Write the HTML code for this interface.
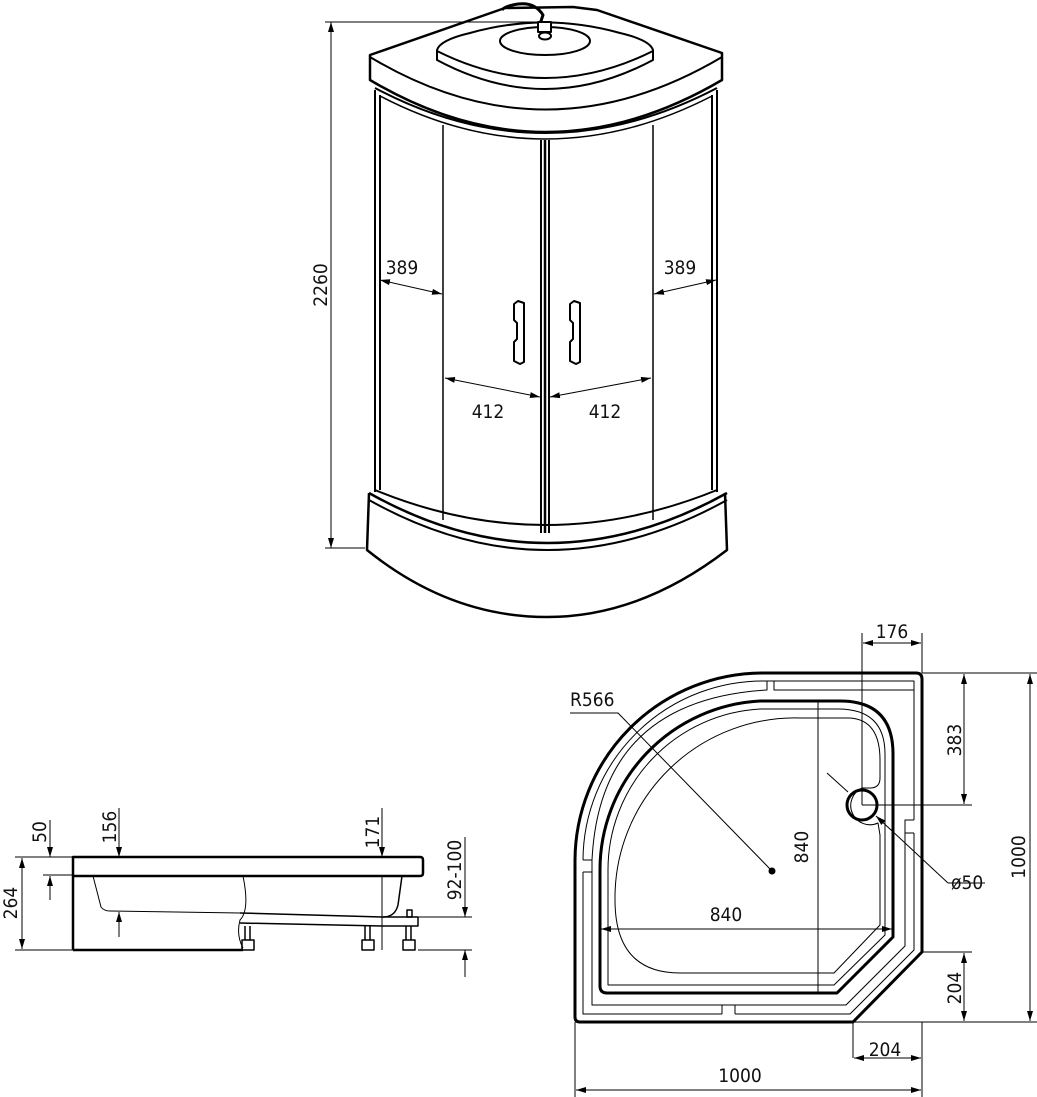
<!DOCTYPE html>
<html><head><meta charset="utf-8"><style>
html,body{margin:0;padding:0;background:#fff;}
svg{display:block;}
text{font-family:"DejaVu Sans Condensed","Liberation Sans Narrow","Liberation Sans",sans-serif;font-size:19px;fill:#111;}
</style></head><body>
<svg width="1037" height="1097" viewBox="0 0 1037 1097" xmlns="http://www.w3.org/2000/svg">
<defs>
<marker id="a" viewBox="0 0 10 6" refX="10" refY="3" markerWidth="10" markerHeight="6" orient="auto-start-reverse" markerUnits="userSpaceOnUse"><path d="M0,0 L10,3 L0,6z" fill="#000"/></marker>
</defs>
<g fill="none" stroke="#000" stroke-linejoin="round">
<!-- CABIN -->
<path d="M370,55 L505,8 L573,7 L597,10 L722,53 L722,80 Q545,184 370,80 Z" stroke-width="2.5" fill="#fff"/>
<path d="M370,57 Q545,162 722,57" stroke-width="2"/>
<path d="M437,50 L437,60 Q545,118 653,60 L653,50 Q650,40 620,33 Q545,12 470,33 Q440,40 437,50 Z" stroke-width="2" fill="#fff"/>
<path d="M437,51 Q545,105 653,51" stroke-width="2"/>
<ellipse cx="545" cy="41" rx="45" ry="14" stroke-width="2"/>
<path d="M540,24 L543,15 Q535,2 518,4 Q505,6 502,10" stroke-width="3"/>
<rect x="538" y="22" width="13" height="10" stroke-width="2" fill="#fff"/>
<ellipse cx="545" cy="36" rx="6" ry="3.5" stroke-width="2"/>
<!-- frame -->
<path d="M375,90 L375,492 M380,95 L380,490 M717,90 L717,492 M712,95 L712,490" stroke-width="2"/>
<path d="M375,88 Q545,178 717,88" stroke-width="2"/>
<path d="M380,96 Q545,182 712,96" stroke-width="1.5"/>
<path d="M443,125 L443,520 M653,125 L653,520" stroke-width="1.5"/>
<path d="M541,140 L541,533 M549,140 L549,533" stroke-width="2"/>
<path d="M545,140 L545,533" stroke-width="2.5"/>
<path d="M375,490 Q545,560 717,490" stroke-width="2"/>
<!-- handles -->
<path d="M514,304 L518,301 L524,303 L524,362 L520,364 L514,361 L514,342 L517,339 L517,323 L514,320 Z" stroke-width="2"/>
<path d="M570,304 L574,301 L580,303 L580,362 L576,364 L570,361 L570,342 L573,339 L573,323 L570,320 Z" stroke-width="2"/>
<!-- tray -->
<path d="M369,493 Q547,593 727,493" stroke-width="2.5"/>
<path d="M369,500 Q547,600 727,500" stroke-width="2"/>
<path d="M369,493 L367,550 Q450,617 547,617 Q640,617 727,550 L725,493" stroke-width="2.5"/>
<path d="M325,22 L545,22 M325,548 L365,548" stroke-width="1"/>
<path d="M331,22 L331,548" stroke-width="1" marker-start="url(#a)" marker-end="url(#a)"/>
<path d="M380,280 L442,294" stroke-width="1" marker-start="url(#a)" marker-end="url(#a)"/>
<path d="M654,294 L716,280" stroke-width="1" marker-start="url(#a)" marker-end="url(#a)"/>
<path d="M445,378 L540,397" stroke-width="1" marker-start="url(#a)" marker-end="url(#a)"/>
<path d="M550,397 L651,378" stroke-width="1" marker-start="url(#a)" marker-end="url(#a)"/>

<!-- SIDE VIEW -->
<path d="M73,950 L73,857 L420,857 Q423,857 423,860 L423,873 Q423,876 420,876 L73,876" stroke-width="2.5"/>
<path d="M73,950 L243,950" stroke-width="2.5"/>
<path d="M93,876 L101,907 Q104,911 110,911 L240,913" stroke-width="1"/>
<path d="M243,876 Q250,910 240,920 Q236,935 243,948" stroke-width="1"/>
<path d="M240,913 L383,917 Q395,917 398,905 L402,876" stroke-width="1.5"/>
<path d="M240,923 L383,926 M383,926 L418,926 L418,917 L383,917" stroke-width="1.5"/>
<rect x="407" y="910" width="5" height="7" stroke-width="1.5"/>
<g stroke-width="1.5">
<path d="M245,926 L245,940 M250,926 L250,940"/><rect x="242" y="940" width="12" height="10"/>
<path d="M365,926 L365,940 M370,926 L370,940"/><rect x="362" y="940" width="12" height="10"/>
<path d="M406,926 L406,940 M411,926 L411,940"/><rect x="403" y="940" width="12" height="10"/>
</g>
<path d="M15,857 L73,857 M15,950 L73,950 M43,875 L73,875" stroke-width="1"/>
<path d="M22,858 L22,949" stroke-width="1" marker-start="url(#a)" marker-end="url(#a)"/>
<path d="M50,820 L50,857" stroke-width="1" marker-end="url(#a)"/>
<path d="M50,900 L50,876" stroke-width="1" marker-end="url(#a)"/>
<path d="M119,808 L119,857" stroke-width="1" marker-end="url(#a)"/>
<path d="M119,937 L119,912" stroke-width="1" marker-end="url(#a)"/>
<path d="M382,808 L382,857" stroke-width="1" marker-end="url(#a)"/>
<path d="M382,876 L382,950" stroke-width="1"/>
<path d="M418,917 L472,917 M418,950 L472,950" stroke-width="1"/>
<path d="M465,837 L465,917" stroke-width="1" marker-end="url(#a)"/>
<path d="M465,977 L465,950" stroke-width="1" marker-end="url(#a)"/>

<!-- PLAN VIEW -->
<path d="M762,673 L916,673 Q922,673 922,679 L922,952 L853,1022 L580,1022 Q575,1022 575,1017 L575,860 A188,188 0 0 1 762,673 Z" stroke-width="3"/>
<path d="M767,681 L914,681 L914,820 M914,833 L914,950 L850,1014 L735,1014 M722,1014 L583,1014 L583,872 M583,860 A180,180 0 0 1 767,681" stroke-width="1"/>
<path d="M774,681 L774,690 L914,690 M767,681 L767,690 Q600,700 592,860 L592,872 L583,872 M592,860 L583,860 M914,820 L905,820 L905,833 L914,833 M722,1014 L722,1005 L735,1005 L735,1014 M592,872 L592,1005 L722,1005 M735,1005 L846,1005 L905,946 L905,833" stroke-width="1"/>
<path d="M760,701 L840,701 Q893,701 893,754 L893,937 L837,993 L607,993 Q600,993 600,986 L600,870 A169,169 0 0 1 760,701 Z" stroke-width="3"/>
<path d="M760,709 L838,709 Q885,709 885,754 L885,935 L834,985 L608,985 L608,870 A161,161 0 0 1 760,709 Z" stroke-width="1"/>
<path d="M800,718 L850,718 Q880,720 880,760 L880,778 Q880,788 870,788 L862,788 A17,17 0 1 0 878,823 L880,835 L880,925 L834,973 L680,973 Q615,973 615,900 A180,180 0 0 1 800,718" stroke-width="1"/>
<circle cx="862" cy="805" r="15" stroke-width="3"/>
<path d="M862,633 L862,805 M922,633 L922,673" stroke-width="1"/>
<path d="M863,643 L921,643" stroke-width="1" marker-start="url(#a)" marker-end="url(#a)"/>
<path d="M922,673 L1037,673 M862,805 L972,805 M922,952 L972,952 M853,1022 L1037,1022" stroke-width="1"/>
<path d="M964,674 L964,804" stroke-width="1" marker-start="url(#a)" marker-end="url(#a)"/>
<path d="M1030,674 L1030,1021" stroke-width="1" marker-start="url(#a)" marker-end="url(#a)"/>
<path d="M964,953 L964,1021" stroke-width="1" marker-start="url(#a)" marker-end="url(#a)"/>
<path d="M853,1022 L853,1058 M922,1022 L922,1097 M575,1022 L575,1097" stroke-width="1"/>
<path d="M854,1058 L921,1058" stroke-width="1" marker-start="url(#a)" marker-end="url(#a)"/>
<path d="M576,1090 L921,1090" stroke-width="1" marker-start="url(#a)" marker-end="url(#a)"/>
<path d="M601,929 L892,929" stroke-width="1" marker-start="url(#a)" marker-end="url(#a)"/>
<path d="M818,701 L818,993" stroke-width="1"/>
<path d="M570,713 L618,713 L772,871" stroke-width="1"/>
<circle cx="772" cy="871" r="3" fill="#000"/>
<path d="M827,773 L848,792" stroke-width="1"/>
<path d="M948,883 L876,816" stroke-width="1" marker-end="url(#a)"/>
<path d="M948,883 L985,883" stroke-width="1"/>
</g>
<g>
<text x="327" y="285" text-anchor="middle" transform="rotate(-90 327 285)">2260</text>
<text x="402" y="274" text-anchor="middle">389</text>
<text x="680" y="274" text-anchor="middle">389</text>
<text x="488" y="418" text-anchor="middle">412</text>
<text x="605" y="418" text-anchor="middle">412</text>
<text x="0" y="0" text-anchor="middle" transform="translate(46,832) rotate(-90)">50</text>
<text x="0" y="0" text-anchor="middle" transform="translate(116,827) rotate(-90)">156</text>
<text x="0" y="0" text-anchor="middle" transform="translate(379,832) rotate(-90)">171</text>
<text x="0" y="0" text-anchor="middle" transform="translate(461,870) rotate(-90)">92-100</text>
<text x="0" y="0" text-anchor="middle" transform="translate(17,903) rotate(-90)">264</text>
<text x="892" y="638" text-anchor="middle">176</text>
<text x="0" y="0" text-anchor="middle" transform="translate(961,740) rotate(-90)">383</text>
<text x="0" y="0" text-anchor="middle" transform="translate(1025,857) rotate(-90)">1000</text>
<text x="0" y="0" text-anchor="middle" transform="translate(961,988) rotate(-90)">204</text>
<text x="0" y="0" text-anchor="middle" transform="translate(808,847) rotate(-90)">840</text>
<text x="726" y="921" text-anchor="middle">840</text>
<text x="885" y="1056" text-anchor="middle">204</text>
<text x="740" y="1082" text-anchor="middle">1000</text>
<text x="570" y="706">R566</text>
<text x="951" y="889">ø50</text>
</g>
</svg>
</body></html>
